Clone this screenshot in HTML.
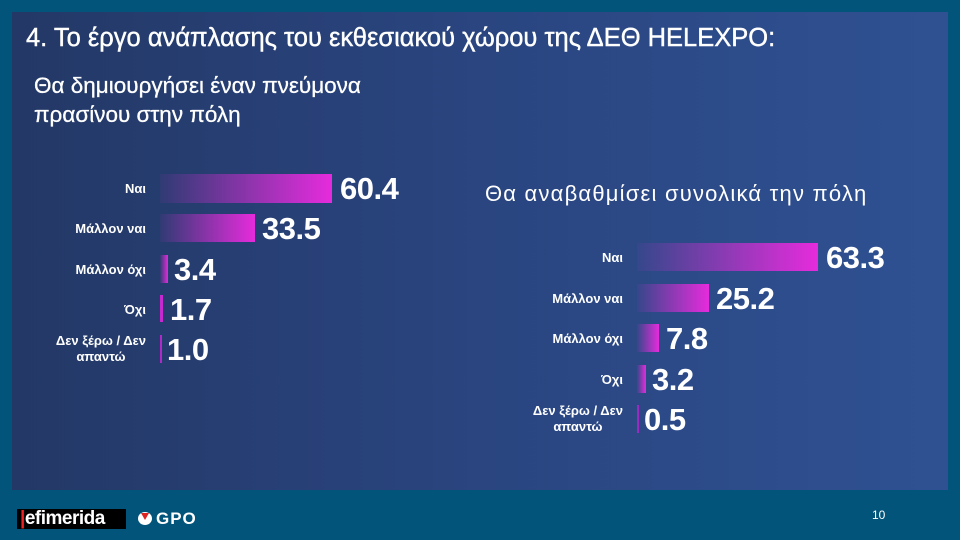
<!DOCTYPE html>
<html><head><meta charset="utf-8"><style>
*{margin:0;padding:0}
body{width:960px;height:540px;background:#02547a;position:relative;overflow:hidden;font-family:"Liberation Sans","DejaVu Sans",sans-serif;color:#fff}
#panel{position:absolute;left:12px;top:12px;width:936px;height:478px;background:linear-gradient(90deg,#233866 0%,#2a4580 50%,#2f5192 100%)}
.t{position:absolute;white-space:nowrap}
.bar{position:absolute;background:linear-gradient(90deg,rgba(230,40,220,0.05),#e62bdc)}
.lab{position:absolute;text-align:center;font-size:13px;font-weight:bold;line-height:16px}
.val{position:absolute;font-size:31px;font-weight:bold;line-height:30px;letter-spacing:-0.5px}
</style></head><body>
<div id="panel"></div>
<div class="t" style="left:26px;top:24px;font-size:25.5px;-webkit-text-stroke:0.4px #fff">4. Το έργο ανάπλασης του εκθεσιακού χώρου της ΔΕΘ HELEXPO:</div>
<div class="t" style="left:34px;top:71px;font-size:22.5px;line-height:29px;-webkit-text-stroke:0.3px #fff">Θα δημιουργήσει έναν πνεύμονα<br>πρασίνου στην πόλη</div>
<div class="t" style="left:485px;top:181px;font-size:22px;letter-spacing:1.2px">Θα αναβαθμίσει συνολικά την πόλη</div>

<div class="lab" style="right:814px;top:181px">Ναι</div>
<div class="bar" style="left:160px;top:174px;width:172px;height:29px"></div>
<div class="val" style="left:340px;top:174px">60.4</div>
<div class="lab" style="right:814px;top:221px">Μάλλον ναι</div>
<div class="bar" style="left:160px;top:214px;width:95px;height:28px"></div>
<div class="val" style="left:262px;top:214px">33.5</div>
<div class="lab" style="right:814px;top:262px">Μάλλον όχι</div>
<div class="bar" style="left:160px;top:255px;width:8px;height:28px"></div>
<div class="val" style="left:174px;top:255px">3.4</div>
<div class="lab" style="right:814px;top:302px">Όχι</div>
<div class="bar" style="left:160px;top:295px;width:3px;height:27px;background:#c42ad0"></div>
<div class="val" style="left:170px;top:295px">1.7</div>
<div class="lab" style="right:814px;top:333px">Δεν ξέρω / Δεν<br>απαντώ</div>
<div class="bar" style="left:160px;top:335px;width:2px;height:28px;background:#b02ac8"></div>
<div class="val" style="left:167px;top:335px">1.0</div>

<div class="lab" style="right:337px;top:250px">Ναι</div>
<div class="bar" style="left:637px;top:243px;width:181px;height:28px"></div>
<div class="val" style="left:826px;top:243px">63.3</div>
<div class="lab" style="right:337px;top:291px">Μάλλον ναι</div>
<div class="bar" style="left:637px;top:284px;width:72px;height:28px"></div>
<div class="val" style="left:716px;top:284px">25.2</div>
<div class="lab" style="right:337px;top:331px">Μάλλον όχι</div>
<div class="bar" style="left:637px;top:324px;width:22px;height:28px"></div>
<div class="val" style="left:666px;top:324px">7.8</div>
<div class="lab" style="right:337px;top:372px">Όχι</div>
<div class="bar" style="left:637px;top:365px;width:9px;height:28px"></div>
<div class="val" style="left:652px;top:365px">3.2</div>
<div class="lab" style="right:337px;top:403px">Δεν ξέρω / Δεν<br>απαντώ</div>
<div class="bar" style="left:637px;top:405px;width:2px;height:28px;background:#9a2ac0"></div>
<div class="val" style="left:644px;top:405px">0.5</div>

<div class="t" style="left:17px;top:509px;width:109px;height:20px;background:#000"></div>
<div class="t" style="left:20px;top:508px;font-size:19px;font-weight:bold;letter-spacing:-0.5px;line-height:22px"><span style="color:#e22">|</span>efimerida</div>
<div class="t" style="left:138px;top:512px;width:14px;height:13px;border-radius:50%;background:#fff"></div>
<div class="t" style="left:141px;top:513px;width:0;height:0;border-left:4px solid transparent;border-right:4px solid transparent;border-top:7px solid #d22"></div>
<div class="t" style="left:156px;top:508px;font-size:17px;font-weight:bold;letter-spacing:1px;line-height:22px">GPO</div>
<div class="t" style="left:872px;top:508px;font-size:12px">10</div>
</body></html>
